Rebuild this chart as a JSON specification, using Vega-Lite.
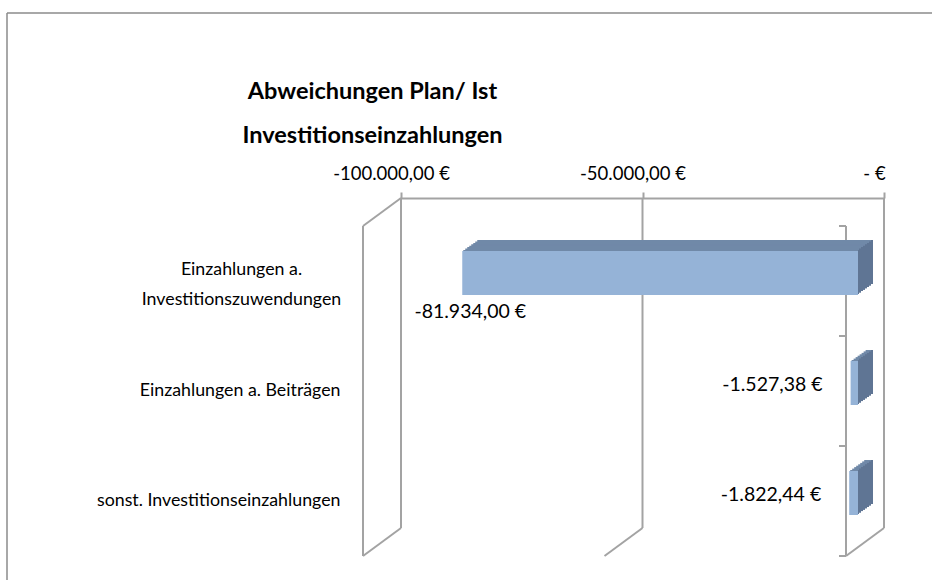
{
  "$schema": "https://vega.github.io/schema/vega-lite/v6.json",
  "width": 925,
  "height": 567,
  "autosize": {"type": "none"},
  "padding": {"left": 7, "top": 13, "right": 0, "bottom": 0},
  "background": "white",
  "config": {
    "view": {"stroke": "#8c8c8c", "strokeWidth": 1.5, "strokeDash": [925, 1492, 567, 0]},
    "font": "Lato",
    "locale": {"number": {"decimal": ",", "thousands": ".", "grouping": [3], "currency": ["", " €"], "minus": "-"}}
  },
  "title": {
    "text": ["Abweichungen Plan/ Ist", "Investitionseinzahlungen"],
    "orient": "top",
    "frame": "group",
    "anchor": "middle",
    "dx": -97,
    "offset": -134,
    "fontSize": 23.5,
    "fontWeight": "bold",
    "font": "Lato",
    "color": "black",
    "lineHeight": 44
  },
  "datasets": {
    "bars": [
      {"kategorie": "Einzahlungen a. Investitionszuwendungen", "wert": -81934.0},
      {"kategorie": "Einzahlungen a. Beiträgen", "wert": -1527.38},
      {"kategorie": "sonst. Investitionseinzahlungen", "wert": -1822.44}
    ],
    "gitter": [{"wert": -100000}, {"wert": -50000}, {"wert": 0}]
  },
  "layer": [
    {
      "data": {"name": "gitter"},
      "mark": {"type": "rule", "color": "#a3a3a3", "strokeWidth": 2},
      "encoding": {
        "x": {
          "field": "wert", "type": "quantitative",
          "scale": {"domain": [-100000, 0], "range": [394, 877], "nice": false, "zero": false},
          "axis": {
            "orient": "top", "offset": -185, "values": [-100000, -50000, 0],
            "format": "$,.2f", "labelExpr": "datum.value == 0 ? '- €' : datum.label",
            "grid": false, "domainColor": "#a3a3a3", "domainWidth": 2,
            "tickColor": "#a3a3a3", "tickWidth": 2, "tickSize": 6,
            "labelFontSize": 18.5, "labelColor": "black", "labelPadding": 9,
            "labelFlush": false, "labelOverlap": false, "labelOffset": -10,
            "labelFont": "Lato", "title": null
          }
        },
        "y": {
          "datum": "Einzahlungen a. Investitionszuwendungen", "type": "nominal", "bandPosition": 0,
          "scale": {
            "domain": ["Einzahlungen a. Investitionszuwendungen", "Einzahlungen a. Beiträgen", "sonst. Investitionseinzahlungen"],
            "range": [185, 515], "paddingInner": 0, "paddingOuter": 0
          },
          "axis": {
            "orient": "left", "offset": -333, "domain": false, "ticks": false, "grid": false,
            "labelPadding": {"condition": {"test": "datum.value == 'Einzahlungen a. Investitionszuwendungen'", "value": 99}, "value": 0},
            "labelAlign": {"condition": {"test": "datum.value == 'Einzahlungen a. Investitionszuwendungen'", "value": "center"}, "value": "right"},
            "labelFontSize": 17.8, "labelColor": "black", "labelFont": "Lato",
            "labelOffset": {"condition": {"test": "datum.value == 'Einzahlungen a. Investitionszuwendungen'", "value": 17}, "value": 28},
            "labelLineHeight": 30, "labelLimit": 400, "title": null,
            "labelExpr": "datum.value == 'Einzahlungen a. Investitionszuwendungen' ? ['Einzahlungen a.', 'Investitionszuwendungen'] : datum.label"
          }
        },
        "y2": {"datum": "sonst. Investitionseinzahlungen", "bandPosition": 1}
      }
    },
    {
      "data": {"name": "gitter"},
      "transform": [{"filter": "datum.wert != -50000"}],
      "mark": {"type": "rule", "color": "#a3a3a3", "strokeWidth": 2, "xOffset": -38, "yOffset": 28, "y2Offset": 28},
      "encoding": {
        "x": {"field": "wert", "type": "quantitative"},
        "y": {"datum": "Einzahlungen a. Investitionszuwendungen", "type": "nominal", "bandPosition": 0},
        "y2": {"datum": "sonst. Investitionseinzahlungen", "bandPosition": 1}
      }
    },
    {
      "data": {"name": "gitter"},
      "mark": {"type": "rule", "color": "#a3a3a3", "strokeWidth": 2, "x2Offset": -38, "y2Offset": 28},
      "encoding": {
        "x": {"field": "wert", "type": "quantitative"},
        "x2": {"field": "wert"},
        "y": {"datum": "sonst. Investitionseinzahlungen", "type": "nominal", "bandPosition": 1},
        "y2": {"datum": "sonst. Investitionseinzahlungen", "bandPosition": 1}
      }
    },
    {
      "data": {"name": "gitter"},
      "transform": [{"filter": "datum.wert == -100000"}],
      "mark": {"type": "rule", "color": "#a3a3a3", "strokeWidth": 2, "x2Offset": -38, "y2Offset": 28},
      "encoding": {
        "x": {"field": "wert", "type": "quantitative"},
        "x2": {"field": "wert"},
        "y": {"datum": "Einzahlungen a. Investitionszuwendungen", "type": "nominal", "bandPosition": 0},
        "y2": {"datum": "Einzahlungen a. Investitionszuwendungen", "bandPosition": 0}
      }
    },
    {
      "data": {"name": "bars"},
      "mark": {"type": "rule", "color": "#a3a3a3", "strokeWidth": 2, "xOffset": -38, "x2Offset": -45, "yOffset": 28, "y2Offset": 28},
      "encoding": {
        "x": {"datum": 0, "type": "quantitative"},
        "x2": {"datum": 0},
        "y": {"field": "kategorie", "type": "nominal", "bandPosition": 0},
        "y2": {"field": "kategorie", "bandPosition": 0}
      }
    },
    {
      "data": {"name": "gitter"},
      "transform": [{"filter": "datum.wert == 0"}],
      "mark": {"type": "rule", "color": "#a3a3a3", "strokeWidth": 2, "xOffset": -38, "x2Offset": -45, "yOffset": 28, "y2Offset": 28},
      "encoding": {
        "x": {"field": "wert", "type": "quantitative"},
        "x2": {"field": "wert"},
        "y": {"datum": "sonst. Investitionseinzahlungen", "type": "nominal", "bandPosition": 1},
        "y2": {"datum": "sonst. Investitionseinzahlungen", "bandPosition": 1}
      }
    },
    {
      "data": {"name": "bars"},
      "layer": [
        {"mark": {"type": "bar", "color": "#7089a8", "xOffset": -11, "x2Offset": -11, "yOffset": 9, "height": {"band": 0.4}}},
        {"mark": {"type": "bar", "color": "#5f7594", "xOffset": -13, "x2Offset": -11, "yOffset": 9, "height": {"band": 0.4}}, "encoding": {"x": {"datum": 0, "type": "quantitative"}}},
        {"mark": {"type": "bar", "color": "#7089a8", "xOffset": -13, "x2Offset": -13, "yOffset": 10.4, "height": {"band": 0.4}}},
        {"mark": {"type": "bar", "color": "#5f7594", "xOffset": -15, "x2Offset": -13, "yOffset": 10.4, "height": {"band": 0.4}}, "encoding": {"x": {"datum": 0, "type": "quantitative"}}},
        {"mark": {"type": "bar", "color": "#7089a8", "xOffset": -15, "x2Offset": -15, "yOffset": 11.9, "height": {"band": 0.4}}},
        {"mark": {"type": "bar", "color": "#5f7594", "xOffset": -17, "x2Offset": -15, "yOffset": 11.9, "height": {"band": 0.4}}, "encoding": {"x": {"datum": 0, "type": "quantitative"}}},
        {"mark": {"type": "bar", "color": "#7089a8", "xOffset": -17, "x2Offset": -17, "yOffset": 13.3, "height": {"band": 0.4}}},
        {"mark": {"type": "bar", "color": "#5f7594", "xOffset": -19, "x2Offset": -17, "yOffset": 13.3, "height": {"band": 0.4}}, "encoding": {"x": {"datum": 0, "type": "quantitative"}}},
        {"mark": {"type": "bar", "color": "#7089a8", "xOffset": -19, "x2Offset": -19, "yOffset": 14.7, "height": {"band": 0.4}}},
        {"mark": {"type": "bar", "color": "#5f7594", "xOffset": -21, "x2Offset": -19, "yOffset": 14.7, "height": {"band": 0.4}}, "encoding": {"x": {"datum": 0, "type": "quantitative"}}},
        {"mark": {"type": "bar", "color": "#7089a8", "xOffset": -21, "x2Offset": -21, "yOffset": 16.1, "height": {"band": 0.4}}},
        {"mark": {"type": "bar", "color": "#5f7594", "xOffset": -23, "x2Offset": -21, "yOffset": 16.1, "height": {"band": 0.4}}, "encoding": {"x": {"datum": 0, "type": "quantitative"}}},
        {"mark": {"type": "bar", "color": "#7089a8", "xOffset": -23, "x2Offset": -23, "yOffset": 17.6, "height": {"band": 0.4}}},
        {"mark": {"type": "bar", "color": "#5f7594", "xOffset": -25, "x2Offset": -23, "yOffset": 17.6, "height": {"band": 0.4}}, "encoding": {"x": {"datum": 0, "type": "quantitative"}}},
        {"mark": {"type": "bar", "color": "#7089a8", "xOffset": -25, "x2Offset": -25, "yOffset": 19, "height": {"band": 0.4}}},
        {"mark": {"type": "bar", "color": "#5f7594", "xOffset": -26, "x2Offset": -25, "yOffset": 19, "height": {"band": 0.4}}, "encoding": {"x": {"datum": 0, "type": "quantitative"}}},
        {"mark": {"type": "bar", "color": "#95b3d7", "xOffset": -26, "x2Offset": -26, "yOffset": 20, "height": {"band": 0.4}}}
      ],
      "encoding": {
        "x": {"field": "wert", "type": "quantitative"},
        "x2": {"datum": 0},
        "y": {"field": "kategorie", "type": "nominal"}
      }
    },
    {
      "data": {"name": "bars"},
      "transform": [{"filter": "datum.wert < -10000"}],
      "mark": {"type": "text", "align": "center", "baseline": "middle", "dx": -18, "dy": 59, "fontSize": 19.5, "font": "Lato", "color": "black"},
      "encoding": {
        "x": {"field": "wert", "type": "quantitative"},
        "y": {"field": "kategorie", "type": "nominal"},
        "text": {"field": "wert", "type": "quantitative", "format": "$,.2f"}
      }
    },
    {
      "data": {"name": "bars"},
      "transform": [{"filter": "datum.wert >= -10000"}],
      "mark": {"type": "text", "align": "right", "baseline": "middle", "dx": -54, "dy": 22, "fontSize": 19.5, "font": "Lato", "color": "black"},
      "encoding": {
        "x": {"field": "wert", "type": "quantitative"},
        "y": {"field": "kategorie", "type": "nominal"},
        "text": {"field": "wert", "type": "quantitative", "format": "$,.2f"}
      }
    }
  ]
}
